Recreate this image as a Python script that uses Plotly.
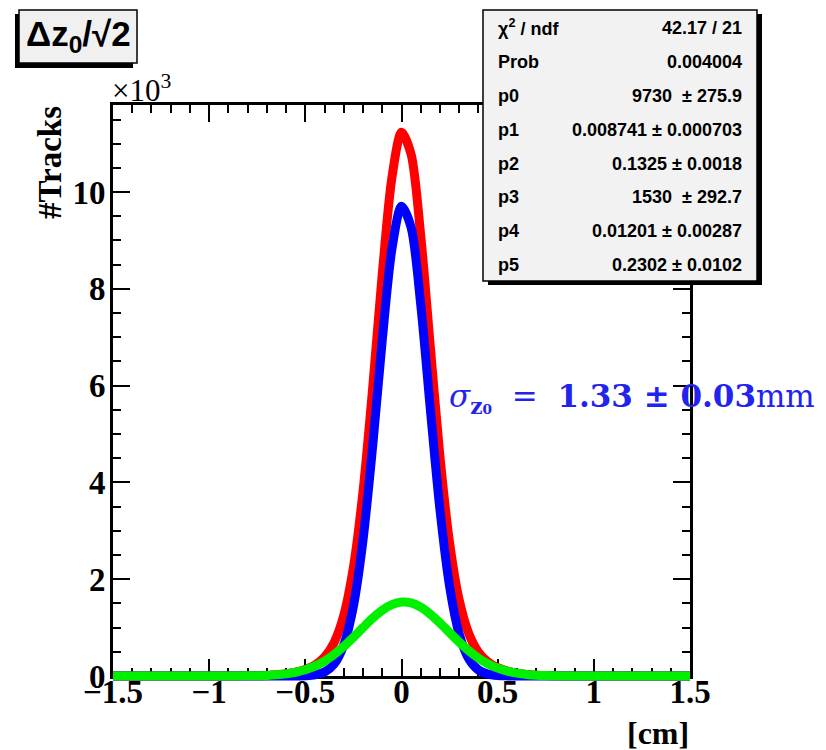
import plotly.graph_objects as go

# ---------------- data ----------------
x_vals = [-1.5, -1.2, -1.0, -0.9, -0.8, -0.75, -0.7, -0.65, -0.6, -0.55, -0.5, -0.45, -0.4,
          -0.35, -0.3, -0.25, -0.2, -0.15, -0.1, -0.05, 0.0, 0.05, 0.1, 0.15, 0.2, 0.25, 0.3,
          0.35, 0.4, 0.45, 0.5, 0.55, 0.6, 0.65, 0.7, 0.75, 0.8, 0.9, 1.0, 1.2, 1.5]
total_fit = [0, 0, 0.1, 0.6, 3.0, 6.4, 12.8, 24.5, 44.9, 79, 135, 228, 392,
             693, 1255, 2247, 3814, 5941, 8307, 10295, 11237, 10778, 9097, 6790, 4529, 2752, 1569,
             874, 494, 288, 172, 102, 59, 32.9, 17.6, 9.0, 4.4, 0.9, 0.1, 0, 0]
narrow_gaus = [0, 0, 0, 0, 0, 0, 0, 0, 0.2, 1.3, 6, 24, 84,
               249, 644, 1446, 2813, 4747, 6948, 8820, 9709, 9269, 7675, 5512, 3433, 1855, 869,
               353, 124, 38, 10, 2.3, 0.4, 0, 0, 0, 0, 0, 0, 0, 0]
wide_gaus = [0, 0, 0.1, 0.6, 3.0, 6.4, 12.8, 24.5, 44.7, 77.7, 129, 204, 308,
             444, 611, 801, 1001, 1194, 1359, 1475, 1528, 1509, 1422, 1278, 1096, 897, 700,
             521, 370, 250, 162, 99.7, 58.6, 32.9, 17.6, 9.0, 4.4, 0.9, 0.1, 0, 0]

y_tick_vals = [0, 2000, 4000, 6000, 8000, 10000]
y_tick_text = ["0", "2", "4", "6", "8", "10"]

stat_labels = ["χ<sup>2</sup> / ndf", "Prob", "p0", "p1", "p2", "p3", "p4", "p5"]
stat_values = ["42.17 / 21", "0.004004", "9730  ± 275.9", "0.008741 ± 0.000703",
               "0.1325 ± 0.0018", "1530  ± 292.7", "0.01201 ± 0.00287", "0.2302 ± 0.0102"]

# ---------------- geometry ----------------
W, H = 826, 750
L, R = 113, 690          # plot left / right pixel
T_OUT, B_OUT = 95, 686   # extended (curve) area top / bottom
FR_TOP, FR_BOT = 105, 676
YMAX = 11800.0

def px(xp):
    return (xp - L) / (R - L)

def py(yp):
    return (B_OUT - yp) / (B_OUT - T_OUT)

ext = 10 * YMAX / (FR_BOT - FR_TOP)

SERIF = "Liberation Serif"
SANS = "Liberation Sans"

fig = go.Figure()

line_kw = dict(shape="spline", smoothing=0.8, width=9)
fig.add_trace(go.Scatter(x=x_vals, y=total_fit, mode="lines", xaxis="x", yaxis="y2",
                         line=dict(color="#ff0000", **line_kw), hoverinfo="skip"))
fig.add_trace(go.Scatter(x=x_vals, y=narrow_gaus, mode="lines", xaxis="x", yaxis="y2",
                         line=dict(color="#0000ff", **line_kw), hoverinfo="skip"))
fig.add_trace(go.Scatter(x=x_vals, y=wide_gaus, mode="lines", xaxis="x", yaxis="y2",
                         line=dict(color="#00f000", **line_kw), hoverinfo="skip"))
# dummy trace to create the main frame subplot
fig.add_trace(go.Scatter(x=[None], y=[None], xaxis="x", yaxis="y", showlegend=False))

tickfont = dict(family=SERIF, size=33, color="black", weight="bold")

fig.update_layout(
    width=W, height=H,
    margin=dict(l=L, r=W - R, t=T_OUT, b=H - B_OUT, pad=0),
    paper_bgcolor="white", plot_bgcolor="rgba(0,0,0,0)",
    showlegend=False,
    xaxis=dict(range=[-1.5, 1.5], domain=[0, 1], anchor="y",
               tickmode="linear", tick0=0, dtick=0.5,
               ticks="inside", ticklen=17, tickwidth=2, tickcolor="black",
               minor=dict(ticks="inside", dtick=0.1, tick0=0, ticklen=8, tickwidth=2, tickcolor="black"),
               showline=True, linewidth=3, linecolor="black", mirror="ticks",
               showgrid=False, zeroline=False, tickfont=tickfont, ticklabelstandoff=-16),
    yaxis=dict(range=[0, YMAX], domain=[py(FR_BOT), py(FR_TOP)], anchor="x",
               tickmode="array", tickvals=y_tick_vals, ticktext=y_tick_text,
               ticks="inside", ticklen=17, tickwidth=2, tickcolor="black",
               minor=dict(ticks="inside", dtick=500, tick0=0, ticklen=8, tickwidth=2, tickcolor="black"),
               showline=True, linewidth=3, linecolor="black", mirror="ticks",
               showgrid=False, zeroline=False, tickfont=tickfont, ticklabelstandoff=-2),
    yaxis2=dict(range=[-ext, YMAX + ext], domain=[0, 1], anchor="x", visible=False,
                showgrid=False, zeroline=False),
)

shapes = []
# stats box with shadow
shapes.append(dict(type="rect", xref="paper", yref="paper", layer="above",
                   x0=px(488), x1=px(762), y0=py(285), y1=py(14),
                   fillcolor="black", line=dict(width=0)))
shapes.append(dict(type="rect", xref="paper", yref="paper", layer="above",
                   x0=px(483), x1=px(757), y0=py(281), y1=py(10),
                   fillcolor="#f2f2f2", line=dict(color="black", width=1.5)))
# title box with shadow
shapes.append(dict(type="rect", xref="paper", yref="paper", layer="above",
                   x0=px(15), x1=px(133), y0=py(68), y1=py(14),
                   fillcolor="black", line=dict(width=0)))
shapes.append(dict(type="rect", xref="paper", yref="paper", layer="above",
                   x0=px(19), x1=px(137), y0=py(63), y1=py(10),
                   fillcolor="#f0f0f0", line=dict(color="black", width=1.5)))
fig.update_layout(shapes=shapes)

ann = []
ann.append(dict(text="<b>Δz<sub>0</sub>/√2</b>", xref="paper", yref="paper", x=px(78), y=py(36),
                xanchor="center", yanchor="middle", showarrow=False,
                font=dict(family=SANS, size=35, color="black")))
for i, (lab, val) in enumerate(zip(stat_labels, stat_values)):
    yc = 28 + i * 33.9
    ann.append(dict(text="<b>" + lab + "</b>", xref="paper", yref="paper", x=px(496), y=py(yc),
                    xanchor="left", yanchor="middle", showarrow=False,
                    font=dict(family=SANS, size=18, color="black")))
    ann.append(dict(text="<b>" + val + "</b>", xref="paper", yref="paper", x=px(744), y=py(yc),
                    xanchor="right", yanchor="middle", showarrow=False,
                    font=dict(family=SANS, size=18, color="black")))
# axis titles and multiplier
ann.append(dict(text="<b>#Tracks</b>", xref="paper", yref="paper", x=px(50), y=py(163),
                xanchor="center", yanchor="middle", textangle=-90, showarrow=False,
                font=dict(family=SERIF, size=33, color="black")))
ann.append(dict(text="<b>[cm]</b>", xref="paper", yref="paper", x=px(691), y=py(733),
                xanchor="right", yanchor="middle", showarrow=False,
                font=dict(family=SERIF, size=32, color="black")))
ann.append(dict(text="×10<sup>3</sup>", xref="paper", yref="paper", x=px(110), y=py(89),
                xanchor="left", yanchor="middle", showarrow=False,
                font=dict(family=SERIF, size=31, color="black")))
# sigma text
ann.append(dict(text="<i>σ</i><sub><b>z₀</b></sub>&nbsp;&nbsp;=&nbsp;&nbsp;<b>1.33&nbsp;±&nbsp;0.03</b>mm",
                xref="paper", yref="paper", x=px(447), y=py(398),
                xanchor="left", yanchor="middle", showarrow=False,
                font=dict(family="DejaVu Serif", size=31, color="#2323ee")))
fig.update_layout(annotations=ann)

fig.write_html("out.html")
